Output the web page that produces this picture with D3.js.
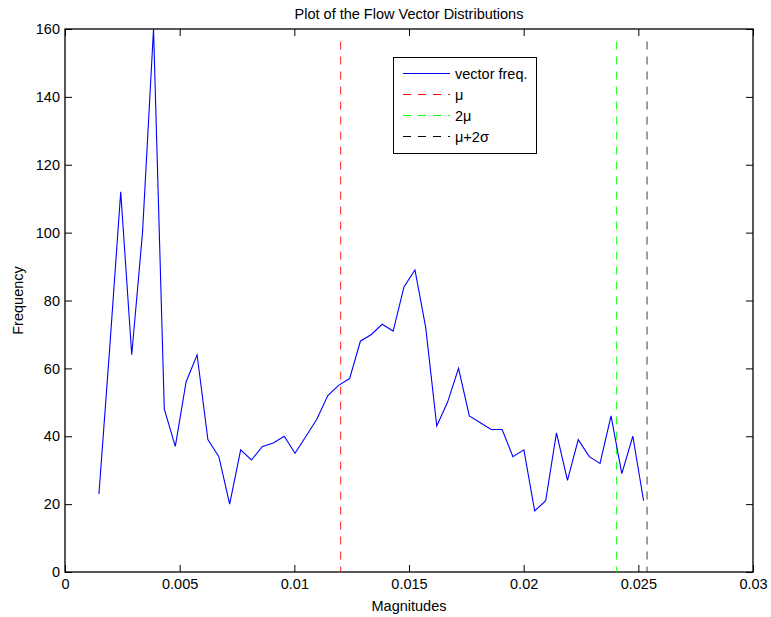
<!DOCTYPE html>
<html>
<head>
<meta charset="utf-8">
<script src="https://cdn.jsdelivr.net/npm/d3@7"></script>
<style>
  html, body { margin: 0; padding: 0; background: #fff; }
  text { font-family: "Liberation Sans", Arial, Helvetica, sans-serif; }
</style>
</head>
<body>
<svg id="chart" width="771" height="617"></svg>
<script>
// ---- data ----
const magnitudes = [
  0.00148, 0.00196, 0.00243, 0.00291, 0.00338, 0.00386, 0.00433, 0.00481, 0.00528, 0.00576,
  0.00623, 0.00671, 0.00718, 0.00766, 0.00813, 0.00861, 0.00908, 0.00956, 0.01003, 0.01051,
  0.01098, 0.01146, 0.01193, 0.01241, 0.01288, 0.01336, 0.01383, 0.01431, 0.01478, 0.01526,
  0.01573, 0.01621, 0.01668, 0.01716, 0.01763, 0.01811, 0.01858, 0.01906, 0.01953, 0.02001,
  0.02048, 0.02096, 0.02143, 0.02191, 0.02238, 0.02286, 0.02333, 0.02381, 0.02428, 0.02476,
  0.02523
];
const frequency = [
  23, 67, 112, 64, 100, 160, 48, 37, 56, 64,
  39, 34, 20, 36, 33, 37, 38, 40, 35, 40,
  45, 52, 55, 57, 68, 70, 73, 71, 84, 89,
  72, 43, 50, 60, 46, 44, 42, 42, 34, 36,
  18, 21, 41, 27, 39, 34, 32, 46, 29, 40,
  21
];
const refNames = ["\u03bc", "2\u03bc", "\u03bc+2\u03c3"];
const refValues = [0.01202, 0.02405, 0.02538];
const refColors = ["#ff0000", "#00ff00", "#000000"];
const xTicks = [0, 0.005, 0.01, 0.015, 0.02, 0.025, 0.03];
const xTickLabels = ["0", "0.005", "0.01", "0.015", "0.02", "0.025", "0.03"];
const yTicks = [0, 20, 40, 60, 80, 100, 120, 140, 160];

// ---- layout ----
const svg = d3.select("#chart");
const L = 65, R = 753, T = 29, B = 572;
const x = d3.scaleLinear().domain([0, 0.03]).range([L, R]);
const y = d3.scaleLinear().domain([0, 160]).range([B, T]);
const fs = 14.5;

// axes with inward ticks on all four sides
const tickLen = 7;
const xb = svg.append("g").attr("transform", `translate(0,${B})`)
  .call(d3.axisBottom(x).tickValues(xTicks).tickFormat((d, i) => xTickLabels[i])
    .tickSizeInner(-tickLen).tickSizeOuter(0).tickPadding(7));
const xt = svg.append("g").attr("transform", `translate(0,${T})`)
  .call(d3.axisTop(x).tickValues(xTicks).tickFormat("")
    .tickSizeInner(-tickLen).tickSizeOuter(0));
const yl = svg.append("g").attr("transform", `translate(${L},0)`)
  .call(d3.axisLeft(y).tickValues(yTicks).tickFormat(d3.format("d"))
    .tickSizeInner(-tickLen).tickSizeOuter(0).tickPadding(5));
const yr = svg.append("g").attr("transform", `translate(${R},0)`)
  .call(d3.axisRight(y).tickValues(yTicks).tickFormat("")
    .tickSizeInner(-tickLen).tickSizeOuter(0));
[xb, xt, yl, yr].forEach(g => {
  g.select(".domain").remove();
  g.selectAll(".tick line").attr("stroke", "#000").attr("stroke-width", 1);
  g.selectAll("text").attr("font-size", fs).attr("fill", "#000")
    .attr("font-family", '"Liberation Sans", Arial, sans-serif');
});

// box
svg.append("rect").attr("x", L).attr("y", T).attr("width", R - L).attr("height", B - T)
  .attr("fill", "none").attr("stroke", "#000").attr("stroke-width", 1.3);

// reference dashed lines
refValues.forEach((v, i) => {
  svg.append("line")
    .attr("x1", x(v)).attr("x2", x(v))
    .attr("y1", y(156.3)).attr("y2", y(0))
    .attr("stroke", refColors[i]).attr("stroke-width", 1)
    .attr("stroke-dasharray", "8,7")
    .attr("opacity", i === 2 ? 0.75 : 0.85);
});

// main line
const line = d3.line().x((d, i) => x(magnitudes[i])).y(d => y(d));
svg.append("path").datum(frequency)
  .attr("d", line).attr("fill", "none")
  .attr("stroke", "#0000ff").attr("stroke-width", 1.1)
  .attr("stroke-linejoin", "miter");

// title & labels
svg.append("text").attr("x", (L + R) / 2).attr("y", 19)
  .attr("text-anchor", "middle").attr("font-size", fs)
  .text("Plot of the Flow Vector Distributions");
svg.append("text").attr("x", (L + R) / 2).attr("y", 611)
  .attr("text-anchor", "middle").attr("font-size", fs)
  .text("Magnitudes");
svg.append("text")
  .attr("transform", `translate(23,${(T + B) / 2}) rotate(-90)`)
  .attr("text-anchor", "middle").attr("font-size", fs)
  .text("Frequency");

// legend
const lg = svg.append("g");
const lx = 393.5, ly = 57.5, lw = 143, lh = 96;
lg.append("rect").attr("x", lx).attr("y", ly).attr("width", lw).attr("height", lh)
  .attr("fill", "#fff").attr("stroke", "#000").attr("stroke-width", 1);
const legNames = ["vector freq."].concat(refNames);
const legColors = ["#0000ff"].concat(refColors);
legNames.forEach((name, i) => {
  const cy = ly + 16 + i * 21;
  lg.append("line").attr("x1", 403).attr("x2", 450).attr("y1", cy).attr("y2", cy)
    .attr("stroke", legColors[i]).attr("stroke-width", 1)
    .attr("stroke-dasharray", i === 0 ? null : "8,7");
  lg.append("text").attr("x", 455).attr("y", cy).attr("dy", "0.35em")
    .attr("font-size", fs).text(name);
});
</script>
</body>
</html>
